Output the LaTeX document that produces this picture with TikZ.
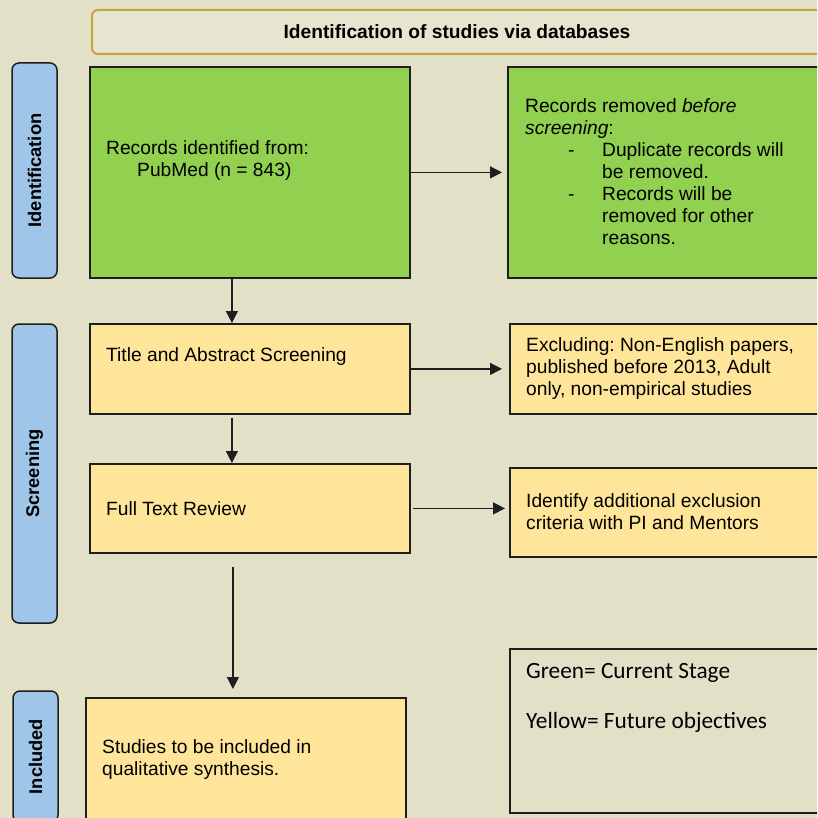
\documentclass[tikz,border=0pt]{standalone}
\usepackage{fontspec}
\setmainfont{Liberation Sans}
\newfontfamily\legendfont{Carlito}
\usetikzlibrary{arrows.meta}
\definecolor{bg}{HTML}{E2E1C8}
\definecolor{boxgreen}{HTML}{92D050}
\definecolor{boxyellow}{HTML}{FFE599}
\definecolor{tabblue}{HTML}{9FC5E8}
\definecolor{gold}{HTML}{C9A43A}
\definecolor{ink}{HTML}{1E1E1E}
\frenchspacing
\newcommand{\dashitem}{\makebox[77pt][l]{\hspace*{43pt}-}}
\newcommand{\dashindent}{\hspace*{77pt}}
\tikzset{x=1pt, y=-1pt,
    box/.style={draw=ink, line width=1.8pt, anchor=north west, inner sep=0pt},
    greenbox/.style={box, fill=boxgreen},
    yellowbox/.style={box, fill=boxyellow},
    tab/.style={draw=ink, line width=1.5pt, fill=tabblue, rounded corners=7pt,
        minimum width=45pt, inner sep=0pt, font=\bfseries\fontsize{18.3}{22}\selectfont},
    txt/.style={anchor=west, inner sep=0pt, align=left, font=\fontsize{19.2}{22}\selectfont},
    legendtxt/.style={anchor=west, inner sep=0pt, font=\legendfont\fontsize{23.3}{27}\selectfont},
    flow/.style={draw=ink, line width=1.3pt, -{Triangle[length=12pt,width=12pt]}},
    }

\begin{document}
\begin{tikzpicture}
\clip (0,0) rectangle (817,818);
\fill[bg] (0,0) rectangle (817,818);

\node[draw=gold, line width=2pt, rounded corners=6pt, fill=bg!85!white, anchor=north west,
    minimum width=730pt, minimum height=44pt, font=\bfseries\fontsize{19.2}{22}\selectfont]
    (header) at (91,9) {Identification of studies via databases};

% stage tabs
\node[tab, minimum height=215pt] (idtab) at (34.5,170.5) {\rotatebox{90}{Identification}};
\node[tab, minimum height=299pt] (scrtab) at (34.5,473.5) {\rotatebox{90}{Screening}};
\node[tab, minimum height=131pt] (inctab) at (35.5,756.5) {\rotatebox{90}{Included}};

% boxes
\node[greenbox, minimum width=320pt, minimum height=211pt] (records) at (89,66) {};
\node[greenbox, minimum width=330pt, minimum height=211pt] (removed) at (507,66) {};
\node[yellowbox, minimum width=320pt, minimum height=90pt] (tiabs) at (89,323) {};
\node[yellowbox, minimum width=330pt, minimum height=90pt] (excluding) at (509,323) {};
\node[yellowbox, minimum width=320pt, minimum height=89pt] (fulltext) at (89,463) {};
\node[yellowbox, minimum width=330pt, minimum height=89pt] (criteria) at (509,467) {};
\node[yellowbox, minimum width=320pt, minimum height=140pt] (included) at (85,697) {};
\node[box, line width=1.5pt, minimum width=330pt, minimum height=164pt] (legend) at (509,648) {};

\node[txt] (recordstxt) at (106,161) {Records identified from:\\\hspace*{31pt}PubMed (n = 843)};
\node[txt] (removedtxt) at (525,172) {Records removed \textit{before}\\\textit{screening}:\\
    \dashitem Duplicate records will\\\dashindent be removed.\\
    \dashitem Records will be\\\dashindent removed for other\\\dashindent reasons.};
\node[txt] (tiabstxt) at (106,357) {Title and Abstract Screening};
\node[txt] (excludingtxt) at (526,369) {Excluding: Non-English papers,\\published before 2013, Adult\\only, non-empirical studies};
\node[txt] (fulltexttxt) at (106,509) {Full Text Review};
\node[txt] (criteriatxt) at (526,512) {Identify additional exclusion\\criteria with PI and Mentors};
\node[txt] (includedtxt) at (102,760) {Studies to be included in\\qualitative synthesis.};
\node[legendtxt] (greentxt) at (526,673) {Green= Current Stage};
\node[legendtxt] (yellowtxt) at (526,722) {Yellow= Future objectives};

% connectors
\draw[flow, shorten >=5pt] (records.east) -- (removed.west);
\draw[flow] ([xshift=-18pt]records.south) -- ([xshift=-18pt]tiabs.north);
\draw[flow, shorten >=7pt] (tiabs.east) -- (tiabs.east -| excluding.west);
\draw[flow, shorten <=3pt] ([xshift=-18pt]tiabs.south) -- ([xshift=-18pt]fulltext.north);
\draw[flow, shorten <=2pt, shorten >=4pt] (fulltext.east) -- (fulltext.east -| criteria.west);
\draw[flow, shorten <=13pt, shorten >=8pt] ([xshift=-17pt]fulltext.south) -- ([xshift=-13pt]included.north);
\end{tikzpicture}
\end{document}
